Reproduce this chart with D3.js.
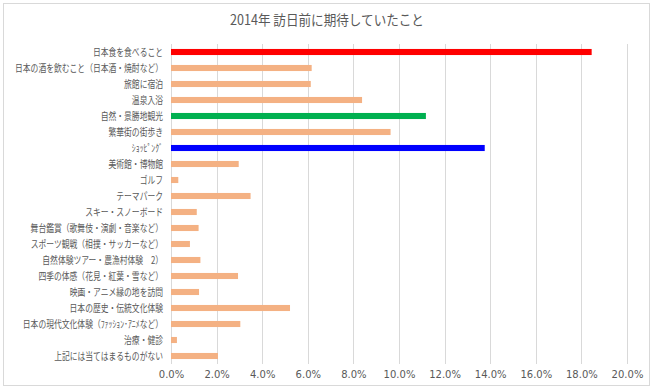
<!DOCTYPE html>
<html>
<head>
<meta charset="utf-8">
<script src="https://cdn.jsdelivr.net/npm/d3@7"></script>
<style>
  body { margin: 0; background: #fff; }
  svg { display: block; }
</style>
</head>
<body>
<div id="chart"></div>
<script>
var categories = [
  "日本食を食べること",
  "日本の酒を飲むこと（日本酒・焼酎など）",
  "旅館に宿泊",
  "温泉入浴",
  "自然・景勝地観光",
  "繁華街の街歩き",
  "ｼｮｯﾋﾟﾝｸﾞ",
  "美術館・博物館",
  "ゴルフ",
  "テーマパーク",
  "スキー・スノーボード",
  "舞台鑑賞（歌舞伎・演劇・音楽など）",
  "スポーツ観戦（相撲・サッカーなど）",
  "自然体験ツアー・農漁村体験　2）",
  "四季の体感（花見・紅葉・雪など）",
  "映画・アニメ縁の地を訪問",
  "日本の歴史・伝統文化体験",
  "日本の現代文化体験（ﾌｧｯｼｮﾝ･ｱﾆﾒなど）",
  "治療・健診",
  "上記には当てはまるものがない"
];
var values = [18.45, 6.17, 6.13, 8.38, 11.18, 9.63, 13.76, 2.97, 0.32, 3.49,
              1.13, 1.21, 0.83, 1.29, 2.94, 1.23, 5.22, 3.04, 0.26, 2.06];
var highlight = {
  "日本食を食べること": "#ff0000",
  "自然・景勝地観光": "#00b050",
  "ｼｮｯﾋﾟﾝｸﾞ": "#0000ff"
};
var xTicks = [0, 2, 4, 6, 8, 10, 12, 14, 16, 18, 20];
var title = "2014年 訪日前に期待していたこと";

var svgWidth = 654;
var svgHeight = 390;
var margin = { top: 44, right: 27, bottom: 26, left: 171 };
var width = svgWidth - margin.left - margin.right;
var height = svgHeight - margin.top - margin.bottom;

var svg = d3.select("#chart")
  .append("svg")
  .attr("width", svgWidth)
  .attr("height", svgHeight);

// chart area frame
svg.append("rect")
  .attr("x", 3.5).attr("y", 3.5)
  .attr("width", 646).attr("height", 382)
  .attr("fill", "#fff")
  .attr("stroke", "#d9d9d9");

svg.append("text")
  .attr("transform", "translate(327, 25) scale(0.9,1)")
  .attr("text-anchor", "middle")
  .attr("font-family", "'Noto Sans CJK JP', sans-serif")
  .attr("font-size", 14)
  .attr("fill", "#595959")
  .text(title);

var chartGroup = svg.append("g")
  .attr("transform", `translate(${margin.left}, ${margin.top})`);

var x = d3.scaleLinear().domain([0, 20]).range([0, width]);
var y = d3.scaleBand().domain(categories).range([0, height]).paddingInner(0.62).paddingOuter(0.31);

// gridlines
chartGroup.append("g")
  .selectAll("line")
  .data(xTicks)
  .enter()
  .append("line")
  .attr("x1", d => Math.round(x(d)) + 0.5)
  .attr("x2", d => Math.round(x(d)) + 0.5)
  .attr("y1", 0)
  .attr("y2", height)
  .attr("stroke", "#d9d9d9");

// x axis
var bottomAxis = d3.axisBottom(x)
  .tickValues(xTicks)
  .tickSize(0)
  .tickPadding(7)
  .tickFormat(d => d.toFixed(1) + "%");

var xAxis = chartGroup.append("g")
  .attr("transform", `translate(0, ${height})`)
  .call(bottomAxis);
xAxis.select(".domain").remove();
xAxis.selectAll("text")
  .attr("font-family", "'DejaVu Sans', sans-serif")
  .attr("font-size", 10)
  .attr("fill", "#595959");

// bars
chartGroup.selectAll(".bar")
  .data(categories)
  .enter()
  .append("rect")
  .attr("class", "bar")
  .attr("x", 0)
  .attr("y", d => y(d))
  .attr("width", (d, i) => x(values[i]))
  .attr("height", y.bandwidth())
  .attr("fill", d => highlight[d] || "#f4b183");

// category labels
chartGroup.selectAll(".cat")
  .data(categories)
  .enter()
  .append("text")
  .attr("class", "cat")
  .attr("transform", d => `translate(-8, ${y(d) + y.bandwidth() / 2}) scale(0.78,1)`)
  .attr("dy", "0.35em")
  .attr("text-anchor", "end")
  .attr("font-family", "'Noto Sans CJK JP', sans-serif")
  .attr("font-size", 10)
  .attr("fill", "#595959")
  .text(d => d);
</script>
</body>
</html>
